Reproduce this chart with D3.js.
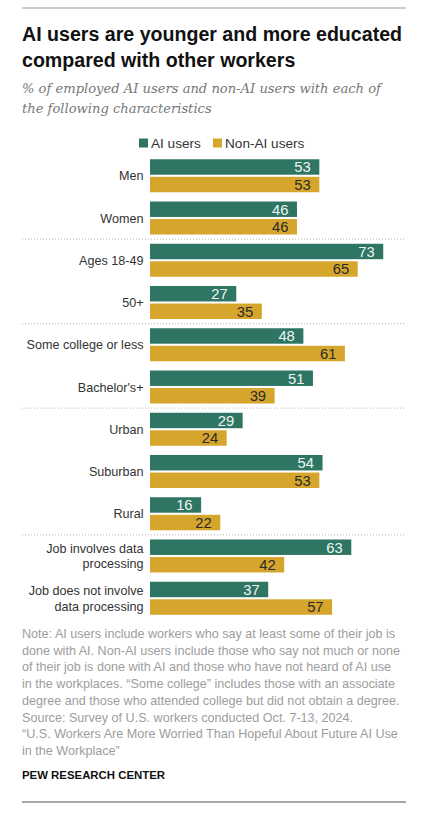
<!DOCTYPE html>
<html>
<head>
<meta charset="utf-8">
<script src="https://cdn.jsdelivr.net/npm/d3@7"></script>
<style>
  html, body { margin: 0; padding: 0; background: #fff; }
  svg { display: block; }
</style>
</head>
<body>
<svg id="chart" width="439" height="817"></svg>
<script>
// ---------- DATA ----------
const categories = ["Men", "Women", "Ages 18-49", "50+", "Some college or less", "Bachelor's+",
  "Urban", "Suburban", "Rural", "Job involves data processing", "Job does not involve data processing"];
const groups = ["Gender", "Gender", "Age", "Age", "Education", "Education",
  "Community", "Community", "Community", "Job", "Job"];
const seriesNames = ["AI users", "Non-AI users"];
const aiUsers = [53, 46, 73, 27, 48, 51, 29, 54, 16, 63, 37];
const nonAiUsers = [53, 46, 65, 35, 61, 39, 24, 53, 22, 42, 57];

const titleLines = ["AI users are younger and more educated", "compared with other workers"];
const subtitleLines = ["% of employed AI users and non-AI users with each of", "the following characteristics"];
const noteLines = [
  "Note: AI users include workers who say at least some of their job is",
  "done with AI. Non-AI users include those who say not much or none",
  "of their job is done with AI and those who have not heard of AI use",
  "in the workplaces. \u201cSome college\u201d includes those with an associate",
  "degree and those who attended college but did not obtain a degree.",
  "Source: Survey of U.S. workers conducted Oct. 7-13, 2024.",
  "\u201cU.S. Workers Are More Worried Than Hopeful About Future AI Use",
  "in the Workplace\u201d"
];
const sourceLabel = "PEW RESEARCH CENTER";

// ---------- SETUP ----------
const colors = { "AI users": "#2f7563", "Non-AI users": "#d6a52b" };
const labelColors = { "AI users": "#eef5f1", "Non-AI users": "#2a2a2a" };
const sans = "'Liberation Sans', Arial, sans-serif";
const svg = d3.select("#chart");
svg.append("rect").attr("width", 439).attr("height", 817).attr("fill", "#fff");

// top & bottom rules
svg.append("line").attr("x1", 22).attr("x2", 406).attr("y1", 8).attr("y2", 8)
  .attr("stroke", "#9a9a9a").attr("stroke-width", 1.2);
svg.append("line").attr("x1", 22).attr("x2", 406).attr("y1", 802).attr("y2", 802)
  .attr("stroke", "#8a8a8a").attr("stroke-width", 1.4);

// title
svg.append("g").selectAll("text").data(titleLines).join("text")
  .attr("x", 22).attr("y", (d, i) => 41 + i * 25.5)
  .attr("font-family", sans).attr("font-weight", "bold").attr("font-size", 19.6)
  .attr("fill", "#111").text(d => d);

// subtitle
svg.append("g").selectAll("text").data(subtitleLines).join("text")
  .attr("x", 22).attr("y", (d, i) => 93 + i * 20)
  .attr("font-family", "'DejaVu Serif', Georgia, serif").attr("font-style", "italic")
  .attr("font-size", 13.1).attr("fill", "#777").text(d => d);

// legend
const legendX = [139, 213];
const lg = svg.append("g").selectAll("g").data(seriesNames).join("g")
  .attr("transform", (d, i) => `translate(${legendX[i]},0)`);
lg.append("rect").attr("x", 0).attr("y", 138.5).attr("width", 9).attr("height", 9)
  .attr("fill", d => colors[d]);
lg.append("text").attr("x", 12).attr("y", 147.8)
  .attr("font-family", sans).attr("font-size", 13.6).attr("fill", "#333").text(d => d);

// scales
const x = d3.scaleLinear().domain([0, 100]).range([150, 469.5]);
const y = d3.scaleBand().domain(categories).range([150, 624]).paddingInner(0.219).paddingOuter(0.219);
const ySub = d3.scaleBand().domain(seriesNames).range([0, y.bandwidth()]).paddingInner(0.12);

const rows = categories.map((c, i) => ({
  cat: c, group: groups[i],
  values: [{ s: "AI users", v: aiUsers[i] }, { s: "Non-AI users", v: nonAiUsers[i] }]
}));

// separators between groups
const gap = (y.step() - y.bandwidth()) / 2;
const seps = rows.filter((r, i) => i < rows.length - 1 && rows[i + 1].group !== r.group);
svg.append("g").selectAll("line").data(seps).join("line")
  .attr("x1", 22).attr("x2", 406)
  .attr("y1", d => y(d.cat) + y.bandwidth() + gap)
  .attr("y2", d => y(d.cat) + y.bandwidth() + gap)
  .attr("stroke", "#b5b5b5").attr("stroke-width", 1).attr("stroke-dasharray", "1,2");

// bars
const rowG = svg.append("g").selectAll("g").data(rows).join("g")
  .attr("transform", d => `translate(0,${y(d.cat)})`);
rowG.selectAll("rect").data(d => d.values).join("rect")
  .attr("x", x(0)).attr("y", d => ySub(d.s))
  .attr("width", d => x(d.v) - x(0)).attr("height", ySub.bandwidth())
  .attr("fill", d => colors[d.s]);
rowG.selectAll("text.val").data(d => d.values).join("text").attr("class", "val")
  .attr("x", d => x(d.v) - 8.5).attr("y", d => ySub(d.s) + ySub.bandwidth() / 2)
  .attr("dy", "0.36em").attr("text-anchor", "end")
  .attr("font-family", sans).attr("font-size", 14.8)
  .attr("fill", d => labelColors[d.s]).text(d => d.v);

// category labels with wrapping
const maxLabelW = 118;
rowG.each(function (d) {
  const g = d3.select(this);
  const t = g.append("text").attr("text-anchor", "end")
    .attr("font-family", sans).attr("font-size", 12.6).attr("fill", "#333");
  const words = d.cat.split(" ");
  let lines = [], cur = [];
  const probe = t.append("tspan");
  words.forEach(w => {
    const test = cur.concat([w]).join(" ");
    probe.text(test);
    if (probe.node().getComputedTextLength() > maxLabelW && cur.length) {
      lines.push(cur.join(" ")); cur = [w];
    } else cur.push(w);
  });
  lines.push(cur.join(" "));
  probe.remove();
  const lh = 15.5;
  const mid = y.bandwidth() / 2;
  lines.forEach((ln, i) => {
    t.append("tspan").attr("x", 143.5)
      .attr("y", mid + (i - (lines.length - 1) / 2) * lh)
      .attr("dy", "0.36em").text(ln);
  });
});

// note
svg.append("g").selectAll("text").data(noteLines).join("text")
  .attr("x", 22).attr("y", (d, i) => 638 + i * 16.7)
  .attr("font-family", sans).attr("font-size", 12.6).attr("fill", "#9d9d9d").text(d => d);

svg.append("text").attr("x", 22).attr("y", 779)
  .attr("font-family", sans).attr("font-weight", "bold").attr("font-size", 11.4)
  .attr("fill", "#111").text(sourceLabel);
</script>
</body>
</html>
